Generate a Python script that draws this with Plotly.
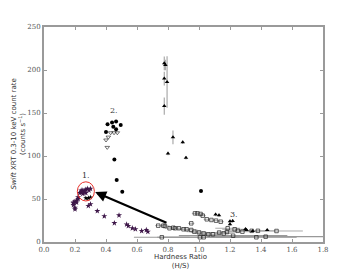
import plotly.graph_objects as go

# ---- data ----
star_x = [0.19, 0.20, 0.19, 0.21, 0.20, 0.22, 0.21, 0.20, 0.19, 0.22, 0.23, 0.24, 0.25, 0.26,
          0.27, 0.28, 0.29, 0.30, 0.25, 0.27, 0.24, 0.26, 0.286, 0.30, 0.344, 0.389, 0.454,
          0.484, 0.533, 0.544, 0.57, 0.59, 0.63, 0.66, 0.67]
star_y = [45, 47, 43, 48, 40, 50, 46, 38, 46, 52, 57, 58, 60, 59, 61, 62, 60, 62, 56, 57, 60, 58,
          42, 44, 36, 30, 22, 31, 20.5, 18.6, 16, 15, 12.8, 14, 12]

bstar_x = [0.27, 0.286, 0.30]
bstar_y = [51, 51, 52]

circ_x = [0.41, 0.439, 0.465, 0.495, 0.447, 0.40, 0.465, 0.454, 0.469, 0.505, 1.013]
circ_y = [137, 139, 140, 136, 134, 128, 131, 96, 72, 58.5, 59.3]

dtri_x = [0.43, 0.452, 0.473, 0.415, 0.40, 0.408]
dtri_y = [127, 127, 127, 122, 118.6, 110]

tri_x = [0.776, 0.783, 0.776, 0.794, 0.776, 0.832, 0.80, 0.895, 0.916, 1.107, 1.129, 1.20,
         1.217, 1.20, 1.307, 1.346, 1.44, 1.30]
tri_y = [207.8, 205.8, 190, 186, 158, 121.7, 103, 116, 98, 32, 31, 24, 24.4, 20.5, 14, 12.8, 14, 15]
tri_err = [8, 6, 8, 30, 10, 8, 2, 2, 2, 2, 2, 2, 2, 2, 1, 1, 1, 1]

sq_x = [0.737, 0.77, 0.78, 0.81, 0.834, 0.845, 0.87, 0.90, 0.92, 0.95, 0.95, 0.974, 0.99, 1.01,
        1.024, 1.00, 0.97, 1.03, 1.05, 1.06, 1.08, 1.09, 1.11, 1.13, 1.14, 1.16, 1.18, 1.185,
        1.23, 1.25, 1.28, 1.34, 1.38, 1.50]
sq_y = [19, 19, 18.6, 16, 16.6, 16, 16, 14.8, 14.8, 14, 21.7, 33.3, 33.3, 32.6, 30.6, 11.2, 12,
        10, 26.4, 9, 25.6, 9, 24.8, 11, 23.6, 10, 11.6, 16, 14.8, 13, 12, 13, 13, 12.8]
sq_err = [0.02, 0.02, 0.03, 0.03, 0.03, 0.03, 0.03, 0.04, 0.04, 0.04, 0.02, 0.02, 0.02, 0.02,
          0.02, 0.05, 0.05, 0.05, 0.02, 0.06, 0.02, 0.06, 0.02, 0.06, 0.02, 0.06, 0.06, 0.08,
          0.08, 0.08, 0.10, 0.10, 0.12, 0.17]

low_x = [0.76, 1.006, 1.03, 1.22, 1.37, 1.43]
low_y = [5.5, 5.5, 5.5, 7.3, 5.5, 6.2]
low_err = [0.18, 0.25, 0.30, 0.35, 0.26, 0.37]

labels_text = ["1.", "2.", "3."]
labels_x = [0.27, 0.45, 1.225]
labels_y = [77, 152.5, 32]

x_ticks = [0.0, 0.2, 0.4, 0.6, 0.8, 1.0, 1.2, 1.4, 1.6, 1.8]
y_ticks = [0, 50, 100, 150, 200, 250]

# ---- figure ----
fig = go.Figure()

fig.add_trace(go.Scatter(
    x=low_x, y=low_y, mode="markers",
    marker=dict(symbol="square-open", size=3.5, color="#222", line=dict(width=0.7)),
    error_x=dict(type="data", array=low_err, color="#999999", thickness=1.2, width=0),
))
fig.add_trace(go.Scatter(
    x=sq_x, y=sq_y, mode="markers",
    marker=dict(symbol="square-open", size=3.5, color="#222", line=dict(width=0.7)),
    error_x=dict(type="data", array=sq_err, color="#aaaaaa", thickness=1, width=0),
))
fig.add_trace(go.Scatter(
    x=tri_x, y=tri_y, mode="markers",
    marker=dict(symbol="triangle-up", size=4, color="#000"),
    error_y=dict(type="data", array=tri_err, color="#aaaaaa", thickness=1.2, width=0),
))
fig.add_trace(go.Scatter(
    x=dtri_x, y=dtri_y, mode="markers",
    marker=dict(symbol="triangle-down-open", size=4, color="#333", line=dict(width=0.7)),
))
fig.add_trace(go.Scatter(
    x=circ_x, y=circ_y, mode="markers",
    marker=dict(symbol="circle", size=4, color="#000"),
))
fig.add_trace(go.Scatter(
    x=bstar_x, y=bstar_y, mode="markers",
    marker=dict(symbol="star", size=4, color="#000"),
))
fig.add_trace(go.Scatter(
    x=star_x, y=star_y, mode="markers",
    marker=dict(symbol="star", size=4.5, color="#3d1648"),
))

# red circle
fig.add_shape(type="circle", xref="x", yref="y", x0=0.215, x1=0.325, y0=47.7, y1=70,
              line=dict(color="#e8302a", width=1))

# arrow
fig.add_annotation(x=0.33, y=58, ax=0.80, ay=21.7, xref="x", yref="y", axref="x", ayref="y",
                   text="", showarrow=True, arrowhead=2, arrowsize=1.0, arrowwidth=2.2,
                   arrowcolor="#000")

for t, xx, yy in zip(labels_text, labels_x, labels_y):
    fig.add_annotation(x=xx, y=yy, xref="x", yref="y", text=t, showarrow=False,
                       font=dict(family="DejaVu Serif", size=8, color="#333"))

# axis titles
fig.add_annotation(x=0.49, y=-0.04, xref="paper", yref="paper", yanchor="top",
                   text="Hardness Ratio<br>(H/S)", showarrow=False,
                   font=dict(family="DejaVu Sans", size=7, color="#333"))
fig.add_annotation(x=-0.093, y=0.5, xref="paper", yref="paper", xanchor="center",
                   yanchor="middle",
                   text="<i>Swift</i> XRT 0.3-10 keV count rate<br>(counts s<sup>−1</sup>)",
                   showarrow=False, textangle=-90,
                   font=dict(family="DejaVu Sans", size=7, color="#333"))

axis_common = dict(showline=True, mirror="ticks", linecolor="#9a9a9a", linewidth=2,
                   ticks="inside", tickcolor="#9a9a9a", ticklen=3, tickwidth=1,
                   showgrid=False, zeroline=False,
                   tickfont=dict(family="DejaVu Serif", size=7, color="#555"))

fig.update_xaxes(range=[0, 1.8], tickvals=x_ticks, ticktext=[f"{v:.1f}" for v in x_ticks],
                 **axis_common)
fig.update_yaxes(range=[0, 250], tickvals=y_ticks, ticktext=[str(v) for v in y_ticks],
                 **axis_common)

# the page adds an 8px body margin, so the figure is 8px smaller and margins shifted
fig.update_layout(width=352, height=262, margin=dict(l=36, r=37, t=19, b=28),
                  plot_bgcolor="white", paper_bgcolor="white", showlegend=False)

fig.write_html("out.html")
